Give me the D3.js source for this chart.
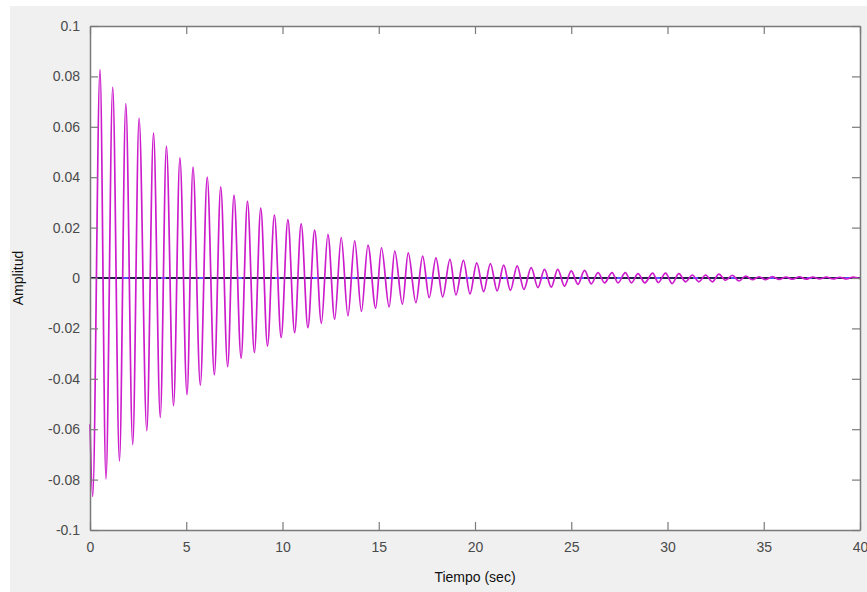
<!DOCTYPE html>
<html>
<head>
<meta charset="utf-8">
<script src="https://cdn.jsdelivr.net/npm/d3@7"></script>
<style>
  body { margin: 0; background: #fff; }
  svg { display: block; }
  .tick text { font-family: "Liberation Sans", Arial, sans-serif; font-size: 14px; fill: #4a4a4a; }
</style>
</head>
<body>
<svg id="chart" width="867" height="592"></svg>
<script>
// values (seconds / amplitude)
var peakTimes = [0.52,1.18,1.86,2.55,3.30,3.97,4.67,5.35,6.09,6.79,7.48,8.18,8.87,9.58,10.28,10.97,11.67,12.36,13.05,13.75,
  14.44,15.14,15.83,16.53,17.28,17.97,18.70,19.40,20.09,20.80,21.49,22.19,22.92,23.61,24.30,25.00,25.69,26.39,27.12,27.81,
  28.47,29.23,29.90,30.59,31.29,31.98,32.67,33.37,34.06,34.76,35.45,36.15,36.85,37.55,38.25,38.95,39.65];
var peakValues = [0.0827,0.0758,0.0692,0.0635,0.0576,0.0523,0.0477,0.0440,0.0400,0.0362,0.0329,0.0305,0.0277,0.0250,0.0232,0.0215,0.0190,0.0173,0.0160,0.0147,
  0.0131,0.0120,0.0107,0.0100,0.0087,0.0080,0.0074,0.0070,0.0060,0.0057,0.0051,0.0048,0.0041,0.0034,0.0034,0.0028,0.0030,0.0021,0.0021,0.0021,
  0.0017,0.0019,0.0019,0.0017,0.0012,0.0012,0.0015,0.0011,0.0008,0.0005,0.0006,0.0004,0.0005,0.0004,0.0004,0.0003,0.0004];
var troughTimes = [0.00,0.14,0.83,1.53,2.22,2.95,3.65,4.34,5.04,5.73,6.46,7.15,7.85,8.54,9.22,9.93,10.63,11.32,12.02,12.71,13.40,
  14.10,14.84,15.54,16.23,16.93,17.62,18.32,19.01,19.74,20.45,21.15,21.84,22.54,23.27,23.96,24.65,25.35,26.04,26.73,27.43,
  28.13,28.82,29.52,30.24,30.94,31.63,32.33,33.02,33.71,34.41,35.10,35.80,36.50,37.20,37.90,38.60,39.30,40.00];
var troughValues = [-0.058,-0.0867,-0.0797,-0.0727,-0.0661,-0.0606,-0.0553,-0.0507,-0.0463,-0.0425,-0.0384,-0.0352,-0.0318,-0.0296,-0.0270,-0.0236,-0.0217,-0.0197,-0.0180,-0.0164,-0.0150,
  -0.0133,-0.0120,-0.0115,-0.0104,-0.0098,-0.0078,-0.0075,-0.0067,-0.0063,-0.0054,-0.0051,-0.0049,-0.0045,-0.0038,-0.0036,-0.0032,-0.0025,-0.0023,-0.0019,-0.0019,
  -0.0019,-0.0019,-0.0018,-0.0022,-0.0015,-0.0015,-0.0015,-0.0009,-0.0012,-0.0007,-0.0007,-0.0006,-0.0005,-0.0005,-0.0004,-0.0004,-0.0004,-0.0003];
var xTicks = [0,5,10,15,20,25,30,35,40];
var yTicks = [-0.1,-0.08,-0.06,-0.04,-0.02,0,0.02,0.04,0.06,0.08,0.1];
var xLabel = "Tiempo (sec)", yLabel = "Amplitud";

var svg = d3.select("#chart");
var mLeft = 90, mRight = 860, mTop = 26, mBottom = 530;

svg.append("rect").attr("x",10).attr("y",6).attr("width",857).attr("height",586).attr("fill","#f0f0f0");
svg.append("rect").attr("x",mLeft).attr("y",mTop).attr("width",mRight-mLeft).attr("height",mBottom-mTop).attr("fill","#fff");

var x = d3.scaleLinear().domain([0,40]).range([mLeft,mRight]);
var y = d3.scaleLinear().domain([-0.1,0.1]).range([mBottom,mTop]);

var pts = peakTimes.map((t,i)=>[t,peakValues[i]])
  .concat(troughTimes.map((t,i)=>[t,troughValues[i]]))
  .sort((a,b)=>a[0]-b[0]);

// zero reference lines
svg.append("line").attr("x1",x(0)).attr("x2",x(40)).attr("y1",y(0)).attr("y2",y(0))
  .attr("stroke","#1a1aff").attr("stroke-width",1.5);
svg.append("line").attr("x1",x(0)).attr("x2",x(40)).attr("y1",y(0)).attr("y2",y(0))
  .attr("stroke","#111").attr("stroke-width",1.5).attr("stroke-dasharray","33,5");

svg.append("path").datum(pts)
  .attr("fill","none").attr("stroke","#cc1ccc").attr("stroke-width",1.7)
  .attr("d", d3.line().x(d=>x(d[0])).y(d=>y(d[1])).curve(d3.curveMonotoneX));

// axes, MATLAB style: ticks inside, box all round
var gx = svg.append("g").attr("transform","translate(0,"+mBottom+")")
  .call(d3.axisBottom(x).tickValues(xTicks).tickSizeInner(-8).tickSizeOuter(0).tickPadding(12).tickFormat(d3.format("d")));
var gy = svg.append("g").attr("transform","translate("+mLeft+",0)")
  .call(d3.axisLeft(y).tickValues(yTicks).tickSizeInner(-8).tickSizeOuter(0).tickPadding(10).tickFormat(d=>d===0?"0":String(+d.toFixed(2))));
var gx2 = svg.append("g").attr("transform","translate(0,"+mTop+")")
  .call(d3.axisTop(x).tickValues(xTicks).tickSizeInner(-8).tickSizeOuter(0).tickFormat(""));
var gy2 = svg.append("g").attr("transform","translate("+mRight+",0)")
  .call(d3.axisRight(y).tickValues(yTicks).tickSizeInner(-8).tickSizeOuter(0).tickFormat(""));

[gx,gy,gx2,gy2].forEach(g=>{
  g.selectAll(".domain").attr("stroke","#7a7a7a").attr("stroke-width",1.5);
  g.selectAll(".tick line").attr("stroke","#7a7a7a").attr("stroke-width",1.2);
});

svg.append("text").attr("x",(mLeft+mRight)/2).attr("y",582)
  .attr("text-anchor","middle").attr("font-family","Liberation Sans, Arial, sans-serif")
  .attr("font-size",14).attr("fill","#111").text(xLabel);
svg.append("text").attr("transform","translate(23,"+y(0)+") rotate(-90)")
  .attr("text-anchor","middle").attr("font-family","Liberation Sans, Arial, sans-serif")
  .attr("font-size",14).attr("fill","#111").text(yLabel);
</script>
</body>
</html>
